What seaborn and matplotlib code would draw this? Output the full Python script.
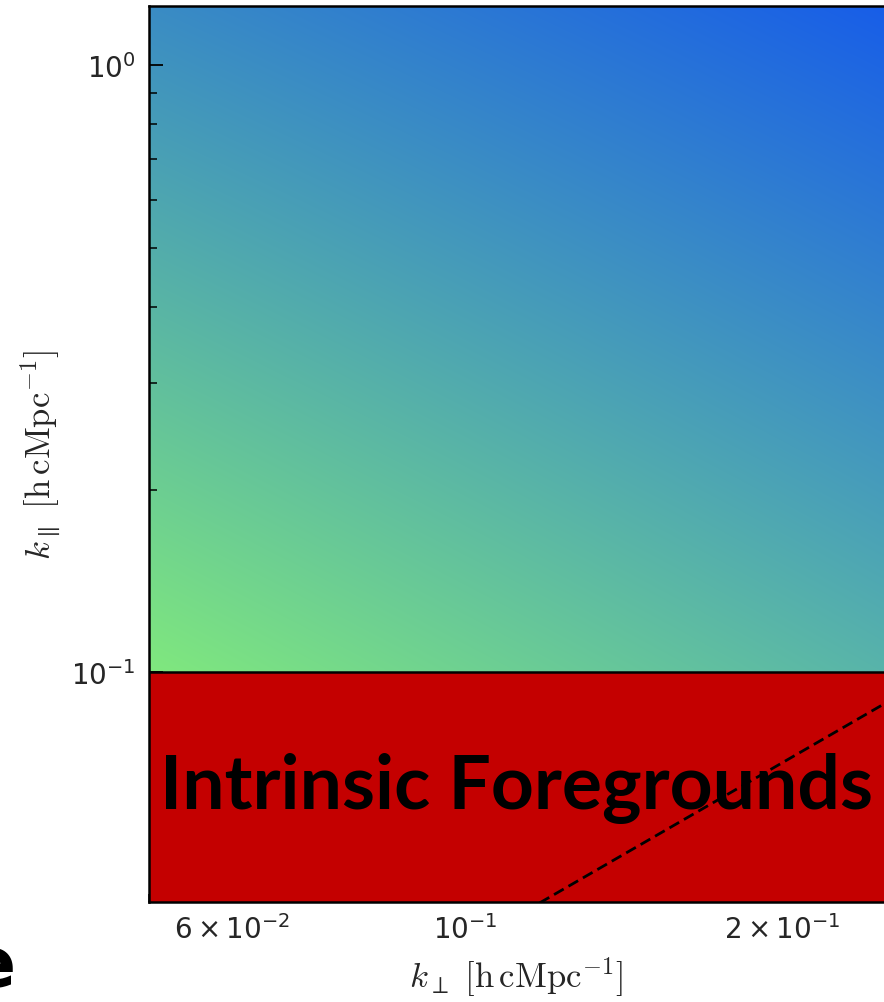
import numpy as np
import pandas as pd
import matplotlib
matplotlib.use("Agg")
import matplotlib.pyplot as plt
from matplotlib.ticker import FuncFormatter, NullFormatter, LogLocator
from matplotlib.colors import to_rgb
import seaborn as sns

# k-space window and foreground boundaries
k_perp_range = [0.05, 0.25]
k_par_range = [0.0419, 1.25]
k_par_intrinsic = 0.1          # intrinsic foreground cut in k_parallel
wedge_slope = 0.355            # k_par = slope * k_perp (foreground wedge)
wedge_k_perp = [0.05, 0.25]

# sensitivity shading: colours at the corners of the clean window
corner_colors = {
    "bottom_left": "#80E87E",
    "bottom_right": "#58B4AA",
    "top_left": "#3A8CC4",
    "top_right": "#185EE8",
}
foreground_color = "#C40000"
region_label = "Intrinsic Foregrounds"

x_minor_labels = {0.06: r"$\mathdefault{6\times10^{-2}}$",
                  0.2: r"$\mathdefault{2\times10^{-1}}$"}

sns.set_style("ticks")
plt.rcParams["font.family"] = ["DejaVu Sans"]

fig = plt.figure(figsize=(8.84, 10.03), dpi=100)
ax = fig.add_axes([149 / 884, 1 - 903 / 1003, 1 - 149 / 884, (903 - 7) / 1003])
ax.set_xscale("log")
ax.set_yscale("log")
ax.set_xlim(*k_perp_range)
ax.set_ylim(*k_par_range)

# bilinear colour gradient across the region above the intrinsic cut
y0 = (np.log10(k_par_intrinsic) - np.log10(k_par_range[0])) / (
    np.log10(k_par_range[1]) - np.log10(k_par_range[0]))
n = 300
u = np.linspace(0, 1, n)
v = np.clip((np.linspace(0, 1, n) - y0) / (1 - y0), 0, 1)
U, V = np.meshgrid(u, v)
bl, br = np.array(to_rgb(corner_colors["bottom_left"])), np.array(to_rgb(corner_colors["bottom_right"]))
tl, tr = np.array(to_rgb(corner_colors["top_left"])), np.array(to_rgb(corner_colors["top_right"]))
img = ((1 - U)[..., None] * (1 - V)[..., None] * bl + U[..., None] * (1 - V)[..., None] * br
       + (1 - U)[..., None] * V[..., None] * tl + U[..., None] * V[..., None] * tr)
ax.imshow(img, origin="lower", extent=[0, 1, 0, 1], transform=ax.transAxes,
          aspect="auto", interpolation="bilinear", zorder=0)

# intrinsic foreground region
ax.axhspan(k_par_range[0], k_par_intrinsic, facecolor=foreground_color,
           edgecolor="none", zorder=1)
ax.axhline(k_par_intrinsic, color="black", lw=1.8, zorder=2)

# foreground wedge line
wedge = pd.DataFrame({"k_perp": wedge_k_perp,
                      "k_par": [wedge_slope * k for k in wedge_k_perp]})
sns.lineplot(data=wedge, x="k_perp", y="k_par", ax=ax, color="black",
             lw=2.0, linestyle=(0, (4, 2)), zorder=3)

ax.text(0.5, y0 / 2, region_label, transform=ax.transAxes, ha="center",
        va="center", fontsize=54, fontweight="bold", family=["Lato", "DejaVu Sans"],
        color="black", zorder=4)

ax.set_xlim(*k_perp_range)
ax.set_ylim(*k_par_range)

# ticks
ax.xaxis.set_major_locator(LogLocator(base=10))
ax.xaxis.set_minor_locator(LogLocator(base=10, subs=np.arange(2, 10)))
ax.xaxis.set_minor_formatter(FuncFormatter(
    lambda x, pos: next((s for k, s in x_minor_labels.items() if np.isclose(x, k)), "")))
ax.yaxis.set_minor_locator(LogLocator(base=10, subs=np.arange(2, 10)))
ax.yaxis.set_minor_formatter(NullFormatter())
ax.tick_params(which="both", direction="in", top=False, right=False,
               labelsize=20, color="black")
ax.tick_params(which="major", length=10, width=1.3)
ax.tick_params(which="minor", length=5.5, width=1.1)
ax.tick_params(axis="x", which="both", pad=9)
ax.tick_params(axis="y", which="both", pad=10)

for side in ["left", "bottom", "top"]:
    ax.spines[side].set_linewidth(1.8)
    ax.spines[side].set_color("black")
ax.spines["right"].set_visible(False)

ax.set_xlabel(r"$k_{\perp}\ [\mathrm{h\,cMpc^{-1}}]$", fontsize=25,
              math_fontfamily="cm", labelpad=7)
ax.set_ylabel(r"$k_{\parallel}\ [\mathrm{h\,cMpc^{-1}}]$", fontsize=25,
              math_fontfamily="cm", labelpad=6)

# panel letter at the figure edge
fig.text(16 / 884, 1 - 987 / 1003, "e", ha="right", va="baseline",
         fontsize=50, fontweight="bold", color="black")

fig.savefig("out.png", dpi=100)
